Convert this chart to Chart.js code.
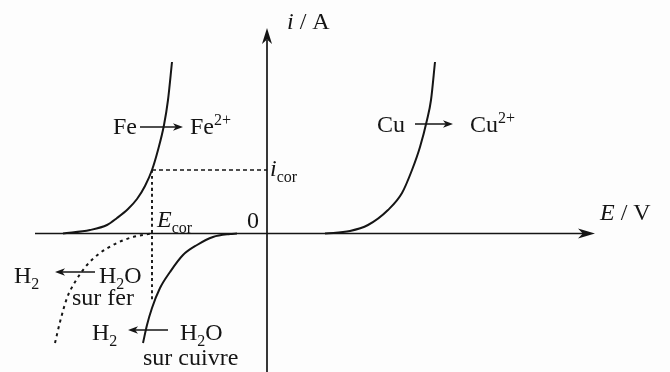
<!DOCTYPE html>
<html>
<head>
<meta charset="utf-8">
<script src="https://cdn.jsdelivr.net/npm/chart.js@4.4.0/dist/chart.umd.min.js"></script>
<style>
  html, body { margin: 0; padding: 0; background: #fdfdfd; }
  #wrap { width: 670px; height: 372px; position: relative; }
  .prechauffe { position: absolute; left: -999px; top: 0; font-family: "Liberation Serif"; font-size: 24px; }
</style>
</head>
<body>
<div class="prechauffe">Fe <i>E</i> <sub>cor</sub></div>
<div id="wrap"><canvas id="graficoCorrosion"></canvas></div>
<script>
// Courbes intensité-potentiel (unités arbitraires)
// Fe -> Fe2+ (oxydation du fer)
const feOxE = [-2.04, -1.77, -1.60, -1.50, -1.39, -1.30, -1.22, -1.15, -1.09, -1.03, -0.99, -0.95];
const feOxI = [0, 0.035, 0.085, 0.155, 0.245, 0.345, 0.475, 0.635, 0.835, 1.085, 1.335, 1.715];
// Cu -> Cu2+ (oxydation du cuivre)
const cuOxE = [0.58, 0.83, 1.01, 1.21, 1.35, 1.45, 1.53, 1.60, 1.64, 1.68];
const cuOxI = [0, 0.025, 0.085, 0.235, 0.405, 0.635, 0.865, 1.135, 1.335, 1.715];
// H2O -> H2 sur cuivre
const cuRedE = [-1.24, -1.20, -1.15, -1.07, -0.97, -0.84, -0.70, -0.54, -0.37, -0.30];
const cuRedI = [-1.095, -0.915, -0.745, -0.545, -0.385, -0.215, -0.115, -0.035, -0.005, 0];
// H2O -> H2 sur fer (pointillés)
const feRedE = [-2.12, -2.07, -2.00, -1.92, -1.80, -1.67, -1.50, -1.34, -1.16];
const feRedI = [-1.095, -0.885, -0.645, -0.485, -0.315, -0.195, -0.095, -0.035, 0];
// point de corrosion
const E_COR = -1.15;
const I_COR = 0.635;
const E_COR_BAS = -0.665;

// étendue des axes
const E_MIN = -2.67, E_MAX = 4.03;
const I_MIN = -1.385, I_MAX = 2.335;
const AXE_E_DEBUT = -2.32, AXE_E_FIN = 3.28;
const AXE_I_FIN = 2.055;

const INK = '#151515';
const FONT = '"Liberation Serif", "Times New Roman", serif';
const SIZE = 24;

const pts = (xs, ys) => xs.map((x, k) => ({ x: x, y: ys[k] }));

// textes : position (E, i) du début de la ligne de base
const etiquettes = [
  { E: 0.20, i: 2.045, parts: [{ t: 'i', it: true }, { t: ' / A' }] },
  { E: 3.33, i: 0.135, parts: [{ t: 'E', it: true }, { t: ' / V' }] },
  { E: -1.54, i: 0.995, parts: [{ t: 'Fe' }] },
  { E: -0.77, i: 0.995, parts: [{ t: 'Fe' }, { t: '2+', sup: true }] },
  { E: 1.10, i: 1.015, parts: [{ t: 'Cu' }] },
  { E: 2.03, i: 1.015, parts: [{ t: 'Cu' }, { t: '2+', sup: true }] },
  { E: 0.03, i: 0.575, parts: [{ t: 'i', it: true }, { t: 'cor', sub: true }] },
  { E: -1.10, i: 0.065, parts: [{ t: 'E', it: true }, { t: 'cor', sub: true }] },
  { E: -0.20, i: 0.055, parts: [{ t: '0' }] },
  { E: -2.53, i: -0.495, parts: [{ t: 'H' }, { t: '2', sub: true }] },
  { E: -1.68, i: -0.495, parts: [{ t: 'H' }, { t: '2', sub: true }, { t: 'O' }] },
  { E: -1.95, i: -0.715, parts: [{ t: 'sur fer' }] },
  { E: -1.75, i: -1.065, parts: [{ t: 'H' }, { t: '2', sub: true }] },
  { E: -0.87, i: -1.065, parts: [{ t: 'H' }, { t: '2', sub: true }, { t: 'O' }] },
  { E: -1.24, i: -1.315, parts: [{ t: 'sur cuivre' }] }
];

// flèches des réactions (de -> vers)
const fleches = [
  { e0: -1.27, e1: -0.84, i: 1.065 },
  { e0: 1.48, e1: 1.86, i: 1.095 },
  { e0: -1.72, e1: -2.12, i: -0.385 },
  { e0: -0.99, e1: -1.39, i: -0.965 }
];

function pointe(ctx, x, y, ang, len, half) {
  ctx.save();
  ctx.translate(x, y);
  ctx.rotate(ang);
  ctx.beginPath();
  ctx.moveTo(0, 0);
  ctx.lineTo(-len, -half);
  ctx.lineTo(-len * 0.72, 0);
  ctx.lineTo(-len, half);
  ctx.closePath();
  ctx.fill();
  ctx.restore();
}

function texteRiche(ctx, x, y, parts) {
  let cx = x;
  parts.forEach(p => {
    const small = p.sub || p.sup;
    const fs = small ? Math.round(SIZE * 0.68) : SIZE;
    ctx.font = (p.it ? 'italic ' : '') + fs + 'px ' + FONT;
    const dy = p.sub ? SIZE * 0.24 : (p.sup ? -SIZE * 0.38 : 0);
    ctx.fillText(p.t, cx, y + dy);
    cx += ctx.measureText(p.t).width;
  });
}

const decor = {
  id: 'decor',
  afterDatasetsDraw(chart) {
    const ctx = chart.ctx;
    const sx = chart.scales.x, sy = chart.scales.y;
    ctx.save();
    ctx.fillStyle = INK;
    ctx.strokeStyle = INK;
    // pointes des axes
    pointe(ctx, sx.getPixelForValue(AXE_E_FIN), sy.getPixelForValue(0), 0, 17, 5);
    pointe(ctx, sx.getPixelForValue(0), sy.getPixelForValue(AXE_I_FIN), -Math.PI / 2, 16, 5);
    // flèches des réactions
    ctx.lineWidth = 1.6;
    fleches.forEach(f => {
      const x0 = sx.getPixelForValue(f.e0), x1 = sx.getPixelForValue(f.e1);
      const y = sy.getPixelForValue(f.i);
      const dir = x1 > x0 ? 1 : -1;
      ctx.beginPath();
      ctx.moveTo(x0, y);
      ctx.lineTo(x1 - dir * 4, y);
      ctx.stroke();
      pointe(ctx, x1, y, dir > 0 ? 0 : Math.PI, 10, 3.8);
    });
    // textes
    ctx.textBaseline = 'alphabetic';
    ctx.textAlign = 'left';
    etiquettes.forEach(l => {
      texteRiche(ctx, sx.getPixelForValue(l.E), sy.getPixelForValue(l.i), l.parts);
    });
    ctx.restore();
  }
};

const courbe = (data, extra) => Object.assign({
  data: data,
  showLine: true,
  borderColor: INK,
  borderWidth: 2,
  pointRadius: 0,
  cubicInterpolationMode: 'monotone',
  fill: false
}, extra || {});

const graphique = new Chart(document.getElementById('graficoCorrosion'), {
  type: 'scatter',
  data: {
    datasets: [
      // axes
      courbe([{ x: AXE_E_DEBUT, y: 0 }, { x: AXE_E_FIN - 0.12, y: 0 }], { borderWidth: 1.7 }),
      courbe([{ x: 0, y: I_MIN }, { x: 0, y: AXE_I_FIN - 0.12 }], { borderWidth: 1.7 }),
      // repères de corrosion
      courbe([{ x: E_COR, y: I_COR }, { x: 0, y: I_COR }], { borderWidth: 1.6, borderDash: [4, 3] }),
      courbe([{ x: E_COR, y: I_COR }, { x: E_COR, y: E_COR_BAS }], { borderWidth: 1.9, borderDash: [3, 3] }),
      // courbes i(E)
      courbe(pts(feOxE, feOxI)),
      courbe(pts(cuOxE, cuOxI)),
      courbe(pts(cuRedE, cuRedI)),
      courbe(pts(feRedE, feRedI), { borderDash: [3, 4] })
    ]
  },
  options: {
    responsive: true,
    maintainAspectRatio: false,
    animation: false,
    layout: { padding: 0 },
    plugins: { legend: { display: false }, tooltip: { enabled: false } },
    scales: {
      x: { type: 'linear', min: E_MIN, max: E_MAX, display: false },
      y: { type: 'linear', min: I_MIN, max: I_MAX, display: false }
    }
  },
  plugins: [decor]
});

// redessiner une fois la police serif disponible
if (document.fonts) {
  Promise.all([
    document.fonts.load(SIZE + 'px "Liberation Serif"'),
    document.fonts.load('italic ' + SIZE + 'px "Liberation Serif"')
  ]).then(() => graphique.draw());
}
</script>
</body>
</html>
